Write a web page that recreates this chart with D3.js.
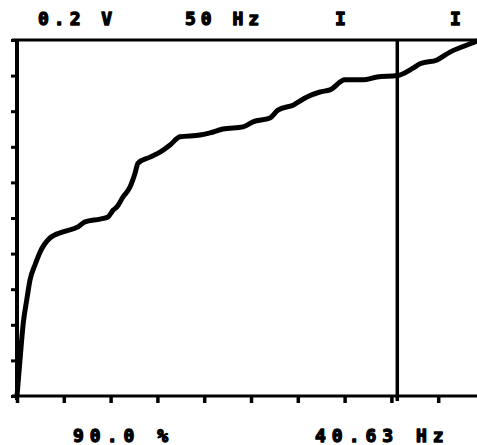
<!DOCTYPE html>
<html>
<head>
<meta charset="utf-8">
<script src="https://cdn.jsdelivr.net/npm/d3@7/dist/d3.min.js"></script>
<style>
  html, body { margin: 0; padding: 0; background: #fff; }
  svg { display: block; }
  text { font-family: "DejaVu Sans Mono", monospace; font-weight: bold; fill: #000; stroke: #000; stroke-width: 1.3; stroke-linejoin: round; }
</style>
</head>
<body>
<svg id="chart" width="477" height="445"></svg>
<script>
// Cumulative spectrum: share of total power (%) below each frequency (Hz)
const freqHz = [0, 0.32, 0.67, 1.04, 1.39, 1.92, 2.46, 3.53, 4.91, 6.52, 7.26, 8.87, 9.72,
  10.26, 10.68, 11.32, 12.07, 12.61, 12.93, 14.21, 15.28, 16.35, 17.41, 19.55, 20.62,
  22.01, 24.15, 25.21, 27.03, 27.88, 29.49, 30.98, 32.37, 33.44, 35.04, 36.97, 38.46,
  40.63, 42.31, 43.06, 44.87, 46.26, 48.08, 49.15, 50];
const cumPct = [0, 10.1, 20.5, 27.0, 32.6, 36.8, 40.4, 44.4, 46.1, 47.5, 48.9, 49.7, 50.3,
  52.2, 53.1, 55.9, 58.7, 62.6, 65.4, 67.1, 68.5, 70.5, 72.8, 73.3, 73.9,
  75.0, 75.6, 77.0, 78.1, 80.3, 81.7, 84.0, 85.4, 86.0, 88.8, 88.8, 89.6,
  90.0, 92.1, 93.3, 94.4, 96.6, 98.6, 99.7, 100];

// Cursor position and its readouts
const cursorHz = 40.63;
const cursorPct = 90.0;

// Axis divisions
const xTicks = d3.range(0, 50.01, 5);
const yTicks = d3.range(0, 100.01, 10);

// Header and readout labels
const headerLabels = ["0.2 V", "50 Hz", "I", "I"];
const readoutLabels = [cursorPct.toFixed(1) + " %", cursorHz.toFixed(2) + " Hz"];

const svg = d3.select("#chart");
const x = d3.scaleLinear().domain([0, 50]).range([17, 485]);
const y = d3.scaleLinear().domain([0, 100]).range([396, 40]);

// Top frame line
svg.append("line")
  .attr("x1", 12).attr("x2", 477).attr("y1", y(100)).attr("y2", y(100))
  .attr("stroke", "#000").attr("stroke-width", 3);

// Left axis (percent)
const gy = svg.append("g").attr("transform", `translate(${x(0)},0)`)
  .call(d3.axisLeft(y).tickValues(yTicks).tickSize(6).tickFormat(""));
gy.select(".domain").attr("stroke-width", 4).attr("d", `M0,${y(100) - 1}V${y(0) + 4}`);
gy.selectAll(".tick line").attr("stroke-width", 3);

// Bottom axis (frequency)
const gx = svg.append("g").attr("transform", `translate(0,${y(0)})`)
  .call(d3.axisBottom(x).tickValues(xTicks).tickSize(7).tickFormat(""));
gx.select(".domain").attr("stroke-width", 3).attr("d", `M12,0H485`);
gx.selectAll(".tick line").attr("stroke-width", 3.5);

// Cursor
svg.append("line")
  .attr("x1", x(cursorHz)).attr("x2", x(cursorHz))
  .attr("y1", y(100)).attr("y2", y(0) + 5)
  .attr("stroke", "#000").attr("stroke-width", 3.5);

// Curve
const line = d3.line()
  .x((d, i) => x(freqHz[i]))
  .y(d => y(d))
  .curve(d3.curveMonotoneX);
svg.append("path")
  .attr("d", line(cumPct))
  .attr("fill", "none").attr("stroke", "#000")
  .attr("stroke-width", 5)
  .attr("stroke-linejoin", "round").attr("stroke-linecap", "round");

// Header labels
const headerX = [38, 185, 335, 450];
svg.selectAll("text.hdr").data(headerLabels).join("text")
  .attr("class", "hdr")
  .attr("x", (d, i) => headerX[i]).attr("y", 25)
  .attr("font-size", 18).attr("letter-spacing", 5)
  .text(d => d);

// Cursor readouts
const readoutX = [73, 315];
svg.selectAll("text.rd").data(readoutLabels).join("text")
  .attr("class", "rd")
  .attr("x", (d, i) => readoutX[i]).attr("y", 442)
  .attr("font-size", 18).attr("letter-spacing", 6)
  .text(d => d);
</script>
</body>
</html>
